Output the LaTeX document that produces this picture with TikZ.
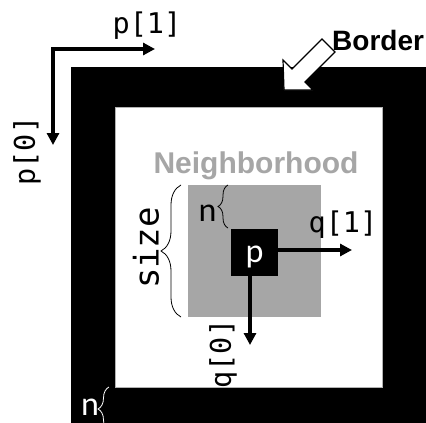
\documentclass[tikz,border=0pt]{standalone}
\usepackage{fontspec}
\usetikzlibrary{arrows.meta,decorations.pathreplacing}
\newfontfamily\monof{DejaVu Sans Mono}
\newfontfamily\carf{Carlito}
\newfontfamily\arialf{Liberation Sans}
\definecolor{nbgray}{HTML}{A6A6A6}
\begin{document}
\begin{tikzpicture}[x=1pt,y=-1pt,
  arr/.style={line width=3.5pt,-{Triangle[length=12pt,width=12pt]}},
  darr/.style={line width=3.5pt,line join=miter,{Triangle[length=12pt,width=12pt]}-{Triangle[length=12pt,width=12pt]}},
  monolbl/.style={inner sep=0pt,font=\monof\fontsize{28.5}{28.5}\selectfont},
  sanslbl/.style={inner sep=0pt,font=\carf\fontsize{34}{34}\selectfont},
  bracestyle/.style={decorate,line width=0.8pt},
]
\useasboundingbox (0,0) rectangle (426,423);
% border frame
\fill[black] (71,67) rectangle (426,423);
\fill[white,draw=gray!60,line width=0.6pt] (115,107) rectangle (382,387);
% neighborhood
\fill[nbgray] (188,185) rectangle (321,317);
\node[font=\arialf\bfseries\fontsize{30}{30}\selectfont,text=nbgray,inner sep=0pt,anchor=base] (nb) at (256,173) {Neighborhood};
% pixel p
\node[fill=black,minimum size=47pt,inner sep=0pt] (pbox) at (254.5,252) {};
\node[sanslbl,text=white] (plbl) at (254.5,257) {p};
% q arrows
\coordinate (q1end) at (352,250);
\coordinate (q0end) at (250,345);
\draw[arr] (pbox.east |- q1end) -- (q1end);
\draw[arr] (pbox.south -| q0end) -- (q0end);
\node[monolbl] (q1) at (343,225) {q[1]};
\node[monolbl,rotate=90] (q0) at (223,354) {q[0]};
% p arrows
\coordinate (p1end) at (155,49);
\coordinate (p0end) at (53,145);
\draw[darr] (p0end) |- (p1end);
\node[monolbl] (p1) at (147,26) {p[1]};
\node[monolbl,rotate=90] (p0) at (27,151) {p[0]};
% size brace
\coordinate (sb1) at (181,317);
\coordinate (sb2) at (181,185);
\draw[bracestyle,decoration={brace,amplitude=20pt,aspect=0.5}] (sb1) -- (sb2);
\node[inner sep=0pt,font=\monof\fontsize{34}{34}\selectfont,rotate=90] (size) at (146,248) {size};
% n brace in neighborhood
\coordinate (nb1) at (228,228);
\coordinate (nb2) at (228,185);
\draw[bracestyle,decoration={brace,amplitude=10pt,aspect=0.5}] (nb1) -- (nb2);
\node[sanslbl] (n1) at (207.5,213.5) {n};
% n brace at border
\coordinate (bb1) at (109,431);
\coordinate (bb2) at (109,387);
\draw[bracestyle,white,decoration={brace,amplitude=11pt,aspect=0.5}] (bb1) -- (bb2);
\node[sanslbl,text=white] (n2) at (90,407.5) {n};
% Border arrow
\node[font=\arialf\bfseries\fontsize{28}{28}\selectfont,inner sep=0pt,anchor=base west] (border) at (332,50) {Border};
\filldraw[fill=white,draw=black,line width=1.2pt,line join=miter]
  (284,90) -- (283,60) -- (292,69) -- (322,39) -- (335,52) -- (305,82) -- (313,90) -- cycle;
\end{tikzpicture}
\end{document}
